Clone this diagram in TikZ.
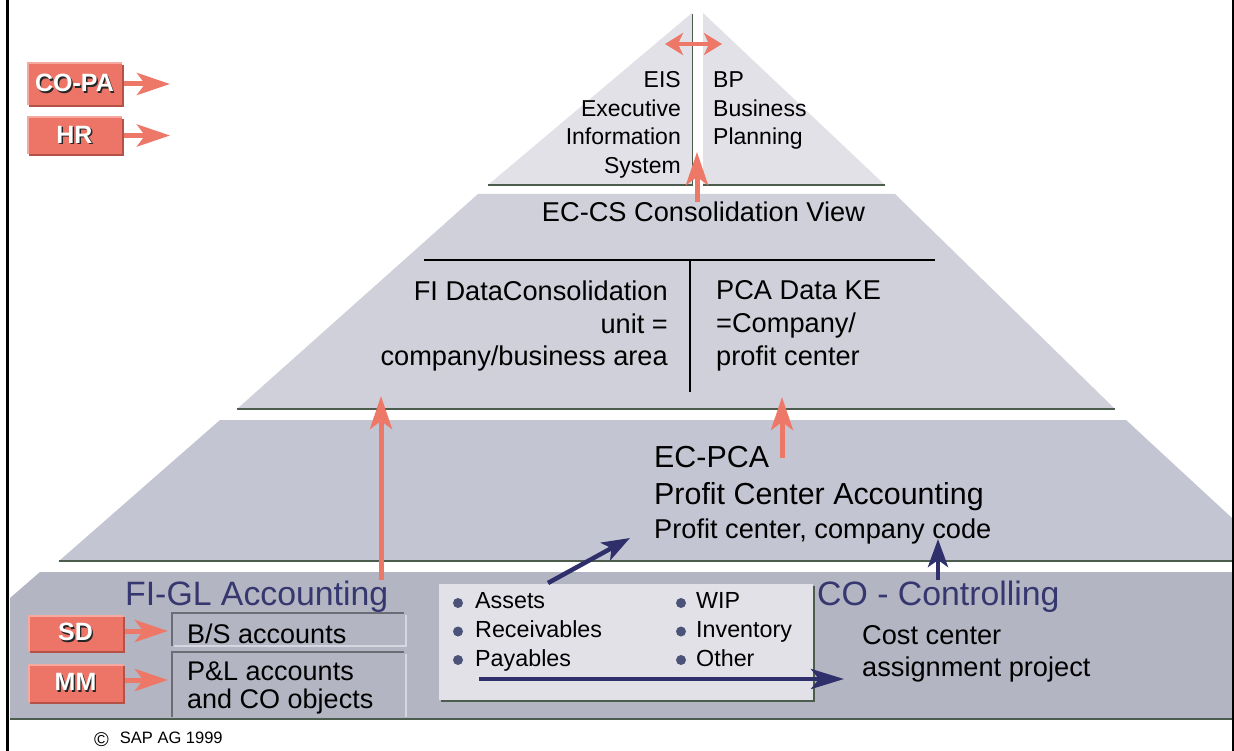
\documentclass[tikz,border=0pt]{standalone}
\usepackage{fontspec}
\setmainfont{Liberation Sans}
\usetikzlibrary{arrows.meta,shadows}
\definecolor{tierA}{HTML}{E1E1E7}
\definecolor{tierB}{HTML}{CFD0DA}
\definecolor{tierC}{HTML}{C4C5D2}
\definecolor{tierD}{HTML}{B3B5C3}
\definecolor{listbg}{HTML}{E1E1E7}
\definecolor{edgeG}{HTML}{4D5D4D}
\definecolor{redA}{HTML}{EE7868}
\definecolor{redBox}{HTML}{EC7567}
\definecolor{redDk}{HTML}{B45248}
\definecolor{redLt}{HTML}{F6A99E}
\definecolor{navy}{HTML}{2F306B}
\definecolor{titleblue}{HTML}{36376F}
\definecolor{bulletc}{HTML}{4B5478}
\definecolor{boxDk}{HTML}{6C6C74}
\definecolor{boxLt}{HTML}{D6D7E0}
\newcommand\fsz[2]{\fontsize{#1}{#2}\selectfont}
\newcommand\shtxt[1]{\makebox[0pt][l]{\hspace{1.4pt}\raisebox{-1.4pt}{\textcolor{black!85}{#1}}}\textcolor{white}{#1}}
\begin{document}
\begin{tikzpicture}[x=1pt,y=-1pt,
  txt/.style={inner sep=0pt, text=black},
  ttl/.style={txt, text=titleblue, font=\fsz{33.8}{40}, anchor=base west},
  redbox/.style={fill=redBox, minimum width=95pt, inner sep=0pt, font=\fsz{25}{30}\bfseries,
     drop shadow={shadow xshift=2pt,shadow yshift=-2pt,fill=redDk,opacity=1},
     path picture={\draw[redLt,line width=3pt] (path picture bounding box.south west) -- (path picture bounding box.north west) -- (path picture bounding box.north east);}},
  redarrow/.style={draw=redA, line width=5pt, -{Stealth[length=33pt,width=22pt,inset=8pt]}},
  navyarrow/.style={draw=navy, line width=4.5pt, -{Stealth[length=28pt,width=20pt,inset=7pt]}},
  bul/.style={circle, fill=bulletc, inner sep=0pt, minimum size=10pt},
  bitem/.style={txt, font=\fsz{23.3}{29}, anchor=base west},
  bottomedge/.style={draw=edgeG, line width=2pt},
]
\useasboundingbox (0,0) rectangle (1234,751);
\fill[white] (0,0) rectangle (1234,751);

% tiers
\fill[tierA] (488,185) -- (692,13) -- (693,185) -- cycle;
\fill[tierA] (703,13) -- (885,185) -- (703,185) -- cycle;
\draw[edgeG, line width=1.5pt] (692.5,14) -- (692.5,185);
\draw[bottomedge] (488,185) -- (693,185);
\draw[bottomedge] (703,185) -- (885,185);

\fill[tierB] (478,194) -- (895,194) -- (1115,409) -- (237,409) -- cycle;
\draw[bottomedge] (237,409) -- (1115,409);
\draw[black, line width=2pt] (424,260) -- (935,260);
\draw[black, line width=2pt] (690,260) -- (690,392);

\fill[tierC] (220,420) -- (1126,420) -- (1232,518) -- (1232,561) -- (59,561) -- cycle;
\draw[bottomedge] (59,561) -- (1232,561);

\fill[tierD] (10,598) -- (40,572) -- (1232,572) -- (1232,719) -- (10,719) -- cycle;
\draw[bottomedge] (10,719) -- (1232,719);

% account boxes
\draw[boxDk, line width=1.5pt] (172,646) -- (172,613) -- (404,613);
\draw[boxLt, line width=1.5pt] (406,615) -- (406,646) -- (174,646);
\draw[boxDk, line width=1.5pt] (172,717) -- (172,652) -- (404,652);
\draw[boxLt, line width=1.5pt] (406,654) -- (406,717);

% list box
\node[fill=listbg, minimum width=374pt, minimum height=116pt, inner sep=0pt,
  drop shadow={shadow xshift=2pt,shadow yshift=-2pt,fill=edgeG,opacity=1}] (list) at (626,642) {};

% texts
\node[txt, font=\fsz{23}{28.5}, align=right, anchor=north east] (eis) at (681,71.5) {EIS\\Executive\\Information\\System};
\node[txt, font=\fsz{23}{28.5}, align=left, anchor=north west] (bp) at (713,71.5) {BP\\Business\\Planning};
\node[txt, font=\fsz{27.2}{33}, anchor=base] (eccs) at (703.5,222) {EC-CS Consolidation View};
\node[txt, font=\fsz{27.2}{32.5}, align=right, anchor=north east] (fidata) at (668,280.7) {FI DataConsolidation\\unit =\\company/business area};
\node[txt, font=\fsz{27.2}{33}, align=left, anchor=north west] (pca) at (716,280.7) {PCA Data KE\\=Company/\\profit center};
\node[txt, font=\fsz{30.4}{37}, align=left, anchor=north west] (ecpca) at (654,446.5) {EC-PCA\\Profit Center Accounting};
\node[txt, font=\fsz{27.2}{33}, anchor=base west] (ecpcasub) at (654,538) {Profit center, company code};
\node[ttl] (figl) at (125,605) {FI-GL Accounting};
\node[ttl] (co) at (817,605) {CO - Controlling};
\node[txt, font=\fsz{27.2}{32}, align=left, anchor=north west] (cost) at (862,625.7) {Cost center\\assignment project};
\node[txt, font=\fsz{27}{32}, anchor=base west] (bs) at (187,643) {B/S accounts};
\node[txt, font=\fsz{27}{27.5}, align=left, anchor=north west] (pl) at (187,661.7) {P\&L accounts\\and CO objects};
\node[txt, font=\fsz{16.5}{19}, anchor=base west] (copy) at (94,743) {\raisebox{-3pt}{\fsz{20}{20}©}\hspace{11pt}SAP AG 1999};

% bullet list
\node[bul] (b1) at (458,603) {};
\node[bul] (b2) at (458,631.5) {};
\node[bul] (b3) at (458,660) {};
\node[bul] (b4) at (681,603) {};
\node[bul] (b5) at (681,631.5) {};
\node[bul] (b6) at (681,660) {};
\node[bitem] (i1) at (475,608) {Assets};
\node[bitem] (i2) at (475,637) {Receivables};
\node[bitem] (i3) at (475,666) {Payables};
\node[bitem] (i4) at (696,608) {WIP};
\node[bitem] (i5) at (696,637) {Inventory};
\node[bitem] (i6) at (696,666) {Other};

% red boxes
\node[redbox, minimum height=42pt] (copa) at (74.5,84) {\shtxt{CO-PA}};
\node[redbox, minimum height=37pt] (hr) at (74.5,135.5) {\shtxt{HR}};
\node[redbox, minimum height=36pt] (sd) at (75.5,633) {\shtxt{SD}};
\node[redbox, minimum height=38pt] (mm) at (75.5,683) {\shtxt{MM}};

% arrow end points
\coordinate (copaT) at (170,84);
\coordinate (hrT) at (170,135.5);
\coordinate (sdT) at (168,631);
\coordinate (mmT) at (168,680);
\coordinate (figlS) at (381,580);
\coordinate (figlT) at (381,396);
\coordinate (pcaS) at (782,458);
\coordinate (pcaT) at (782,397);
\coordinate (topS) at (697,202);
\coordinate (topT) at (697,152);
\coordinate (dblL) at (665,44);
\coordinate (dblR) at (722,44);
\coordinate (diagS) at (548,583);
\coordinate (diagT) at (630,538);
\coordinate (vS) at (938,580);
\coordinate (vT) at (938,539);
\coordinate (hS) at (479,679);
\coordinate (hT) at (844,679);

% red arrows
\draw[redarrow, shorten <=2pt] (copa.east) -- (copaT);
\draw[redarrow, shorten <=2pt] (hr.east) -- (hrT);
\draw[redarrow, shorten <=2pt] ([yshift=2pt]sd.east) -- (sdT);
\draw[redarrow, shorten <=2pt] ([yshift=3pt]mm.east) -- (mmT);
\draw[redarrow] (figlS) -- (figlT);
\draw[redarrow] (pcaS) -- (pcaT);
\draw[redarrow] (topS) -- (topT);
\draw[draw=redA, line width=4pt, {Stealth[length=18pt,width=22pt,inset=5pt]}-{Stealth[length=18pt,width=22pt,inset=5pt]}] (dblL) -- (dblR);

% navy arrows
\draw[navyarrow] (diagS) -- (diagT);
\draw[navyarrow] (vS) -- (vT);
\draw[navyarrow, -{Stealth[length=33pt,width=20pt,inset=8pt]}] (hS) -- (hT);

% frame
\draw[black, line width=3pt] (7.5,0) -- (7.5,751);
\draw[black, line width=2.5pt] (1232.75,0) -- (1232.75,751);
\end{tikzpicture}
\end{document}
